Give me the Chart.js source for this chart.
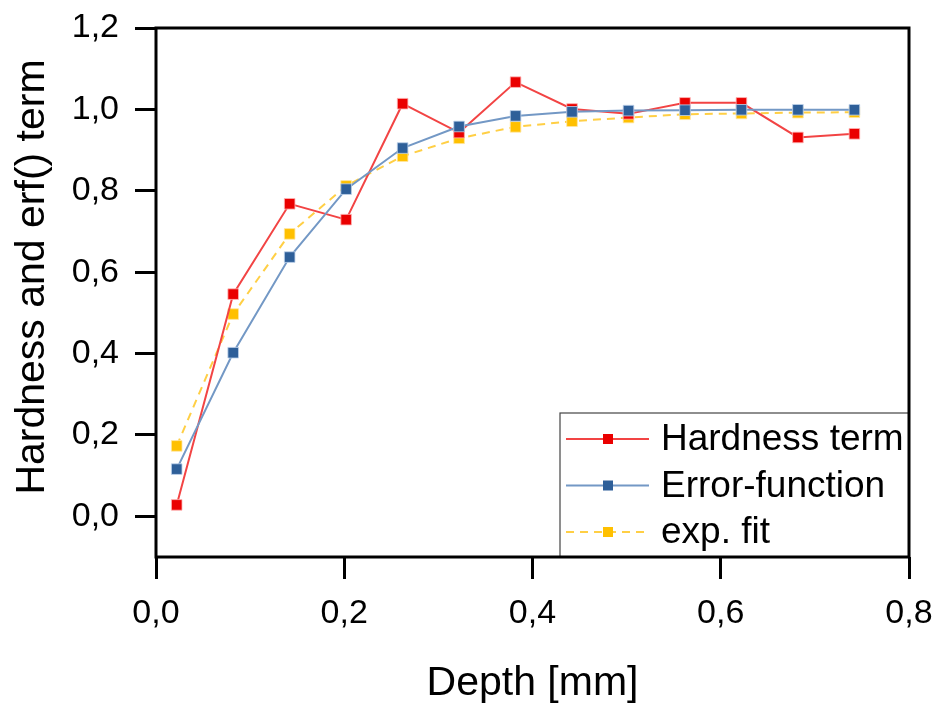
<!DOCTYPE html>
<html>
<head>
<meta charset="utf-8">
<script src="https://cdn.jsdelivr.net/npm/chart.js@4/dist/chart.umd.min.js"></script>
<style>
  html, body { margin: 0; padding: 0; background: #fff; }
  #wrap { width: 940px; height: 704px; }
</style>
</head>
<body>
<div id="wrap"><canvas id="myChart" width="940" height="704"></canvas></div>
<script>
// Depth of each measurement in mm
var depth = [0.022, 0.082, 0.142, 0.202, 0.262, 0.322, 0.382, 0.442, 0.502, 0.562, 0.622, 0.682, 0.742];

// Normalised hardness, error function and exponential fit at each depth
var hardness = [0.028, 0.546, 0.768, 0.729, 1.014, 0.943, 1.067, 1.001, 0.989, 1.016, 1.016, 0.931, 0.940];
var errorFn  = [0.116, 0.402, 0.637, 0.804, 0.905, 0.958, 0.984, 0.994, 0.997, 0.998, 0.999, 0.999, 0.999];
var expFit   = [0.173, 0.497, 0.694, 0.812, 0.885, 0.929, 0.957, 0.971, 0.980, 0.988, 0.990, 0.992, 0.993];

var xTicks = [0.0, 0.2, 0.4, 0.6, 0.8];
var yTicks = [0.0, 0.2, 0.4, 0.6, 0.8, 1.0, 1.2];

var yTitle = 'Hardness and erf() term';
var xTitle = 'Depth [mm]';

var FONT = '"Liberation Sans", Arial, sans-serif';

function toPoints(ys) {
  var pts = [];
  for (var i = 0; i < depth.length; i++) {
    pts.push({ x: depth[i], y: ys[i] });
  }
  return pts;
}

function commaLabel(v) {
  return v.toFixed(1).replace('.', ',');
}

// Keep the scales from pushing the plot area around for label overhang
function noOverhang(scale) {
  scale.paddingTop = 0;
  scale.paddingBottom = 0;
  scale.paddingLeft = 0;
  scale.paddingRight = 0;
}

// Black frame round the plot area, plus the rotated y title
var framePlugin = {
  id: 'frame',
  afterDraw: function (chart) {
    var a = chart.chartArea, ctx = chart.ctx;
    ctx.save();
    ctx.strokeStyle = '#000';
    ctx.lineWidth = 3;
    ctx.strokeRect(a.left, a.top, a.right - a.left, a.bottom - a.top);

    // y title sits a little above the middle of the plot
    ctx.translate(33, 277);
    ctx.rotate(-Math.PI / 2);
    ctx.font = '41px ' + FONT;
    ctx.fillStyle = '#000';
    ctx.textAlign = 'center';
    ctx.textBaseline = 'middle';
    ctx.fillText(yTitle, 0, 0);
    ctx.restore();
  }
};

// Boxed legend in the lower right corner of the plot
var boxLegend = {
  id: 'boxLegend',
  afterDatasetsDraw: function (chart) {
    var a = chart.chartArea, ctx = chart.ctx;
    var boxLeft = 560, boxTop = 413;
    ctx.save();
    ctx.fillStyle = '#fff';
    ctx.fillRect(boxLeft, boxTop, a.right - boxLeft, a.bottom - boxTop);
    ctx.strokeStyle = '#444';
    ctx.lineWidth = 1.2;
    ctx.strokeRect(boxLeft, boxTop, a.right - boxLeft, a.bottom - boxTop);
    ctx.font = '37px ' + FONT;
    ctx.textBaseline = 'middle';
    chart.data.datasets.forEach(function (ds, i) {
      var y = 439 + i * 46.5;
      ctx.strokeStyle = ds.borderColor;
      ctx.lineWidth = 2;
      ctx.setLineDash(ds.borderDash || []);
      ctx.beginPath();
      ctx.moveTo(566, y);
      ctx.lineTo(649, y);
      ctx.stroke();
      ctx.setLineDash([]);
      ctx.fillStyle = ds.pointBackgroundColor;
      ctx.fillRect(603, y - 5, 10, 10);
      ctx.fillStyle = '#000';
      ctx.fillText(ds.label, 661, y + 1);
    });
    ctx.restore();
  }
};

var ctx = document.getElementById('myChart');
var myChart = new Chart(ctx, {
  type: 'line',
  data: {
    datasets: [
      {
        label: 'Hardness term',
        data: toPoints(hardness),
        borderColor: '#f24444',
        borderWidth: 2,
        pointStyle: 'rect',
        pointRadius: 7.5,
        pointBackgroundColor: '#ea0000',
        pointBorderColor: 'rgba(255,180,180,0.8)',
        pointBorderWidth: 1,
        order: 1
      },
      {
        label: 'Error-function',
        data: toPoints(errorFn),
        borderColor: '#7398c5',
        borderWidth: 2,
        pointStyle: 'rect',
        pointRadius: 7.5,
        pointBackgroundColor: '#2e5f99',
        pointBorderColor: 'rgba(190,210,235,0.8)',
        pointBorderWidth: 1,
        order: 0
      },
      {
        label: 'exp. fit',
        data: toPoints(expFit),
        borderColor: '#ffcf45',
        borderWidth: 2,
        borderDash: [8, 6],
        pointStyle: 'rect',
        pointRadius: 7.5,
        pointBackgroundColor: '#ffc000',
        pointBorderColor: 'rgba(255,230,160,0.8)',
        pointBorderWidth: 1,
        order: 2
      }
    ]
  },
  options: {
    responsive: false,
    animation: false,
    layout: { padding: { left: 0, top: 28, right: 31, bottom: 0 } },
    plugins: {
      legend: { display: false },
      tooltip: { enabled: false }
    },
    scales: {
      x: {
        type: 'linear',
        min: 0,
        max: 0.8,
        afterBuildTicks: function (scale) {
          scale.ticks = xTicks.map(function (v) { return { value: v }; });
        },
        afterFit: function (scale) {
          scale.height = 147;
          noOverhang(scale);
        },
        grid: {
          drawOnChartArea: false,
          drawTicks: true,
          tickLength: 22,
          tickWidth: 3,
          tickColor: '#000'
        },
        border: { display: false },
        ticks: {
          padding: 14,
          color: '#000',
          font: { family: FONT, size: 34 },
          maxRotation: 0,
          callback: function (v) { return commaLabel(v); }
        },
        title: {
          display: true,
          text: xTitle,
          color: '#000',
          font: { family: FONT, size: 41, lineHeight: 1.0 },
          padding: { top: 0, bottom: 0 }
        }
      },
      y: {
        type: 'linear',
        min: -0.1,
        max: 1.2,
        afterBuildTicks: function (scale) {
          scale.ticks = yTicks.map(function (v) { return { value: v }; });
        },
        afterFit: function (scale) {
          scale.width = 156;
          noOverhang(scale);
        },
        grid: {
          drawOnChartArea: false,
          drawTicks: true,
          tickLength: 21,
          tickWidth: 3,
          tickColor: '#000'
        },
        border: { display: false },
        ticks: {
          padding: 16,
          color: '#000',
          font: { family: FONT, size: 34 },
          callback: function (v) { return commaLabel(v); }
        },
        title: { display: false }
      }
    }
  },
  plugins: [framePlugin, boxLegend]
});
</script>
</body>
</html>
